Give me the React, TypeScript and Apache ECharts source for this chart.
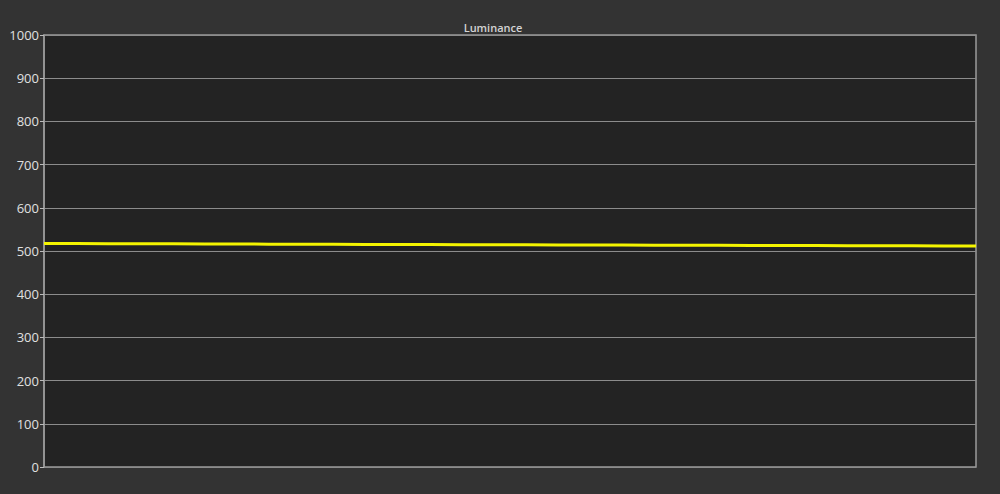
import React, { useEffect, useRef } from "react";
import * as echarts from "echarts";

const TITLE = "Luminance";
const yTicks = [0, 100, 200, 300, 400, 500, 600, 700, 800, 900, 1000];
const luminance = [
  517.5, 517.3, 517.0, 516.8, 516.5, 516.3, 516.1, 515.9, 515.7, 515.5,
  515.3, 515.1, 514.9, 514.7, 514.5, 514.3, 514.1, 513.9, 513.7, 513.5,
  513.3, 513.1, 512.9, 512.7, 512.5, 512.3, 512.1, 511.9, 511.7, 511.5,
];
const categories = luminance.map((_, i) => String(i + 1));

export default function App() {
  const ref = useRef<HTMLDivElement>(null);
  useEffect(() => {
    if (!ref.current) return;
    const chart = echarts.init(ref.current, null, { renderer: "svg" });
    chart.setOption({
      animation: false,
      backgroundColor: "#333333",
      graphic: [
        {
          type: "text",
          x: 493,
          y: 27,
          style: {
            text: TITLE,
            fill: "#d4d4d4",
            font: "600 11px 'Open Sans', sans-serif",
            textAlign: "center",
            textVerticalAlign: "middle",
          },
        },
      ],
      grid: {
        left: 44,
        right: 24,
        top: 35,
        bottom: 27,
        show: true,
        backgroundColor: "#232323",
        borderColor: "#9a9a9a",
        borderWidth: 1.5,
      },
      xAxis: {
        type: "category",
        data: categories,
        boundaryGap: false,
        axisLabel: { show: false },
        axisTick: { show: false },
        axisLine: { show: false },
        splitLine: { show: false },
      },
      yAxis: {
        type: "value",
        min: yTicks[0],
        max: yTicks[yTicks.length - 1],
        interval: 100,
        axisLine: { show: true, lineStyle: { color: "#9a9a9a", width: 1.5 } },
        axisTick: { show: true, length: 4, lineStyle: { color: "#bbbbbb" } },
        axisLabel: {
          color: "#e0e0e0",
          fontSize: 13,
          fontFamily: "'Open Sans', sans-serif",
          margin: 5,
          formatter: (v: number) => String(v),
        },
        splitLine: { show: true, lineStyle: { color: "#8c8c8c", width: 1 } },
      },
      series: [
        {
          type: "line",
          data: luminance,
          symbol: "none",
          lineStyle: { color: "#f5f500", width: 3 },
        },
      ],
    });
    return () => chart.dispose();
  }, []);
  return (
    <div
      ref={ref}
      style={{ position: "fixed", left: 0, top: 0, width: 1000, height: 494 }}
    />
  );
}
